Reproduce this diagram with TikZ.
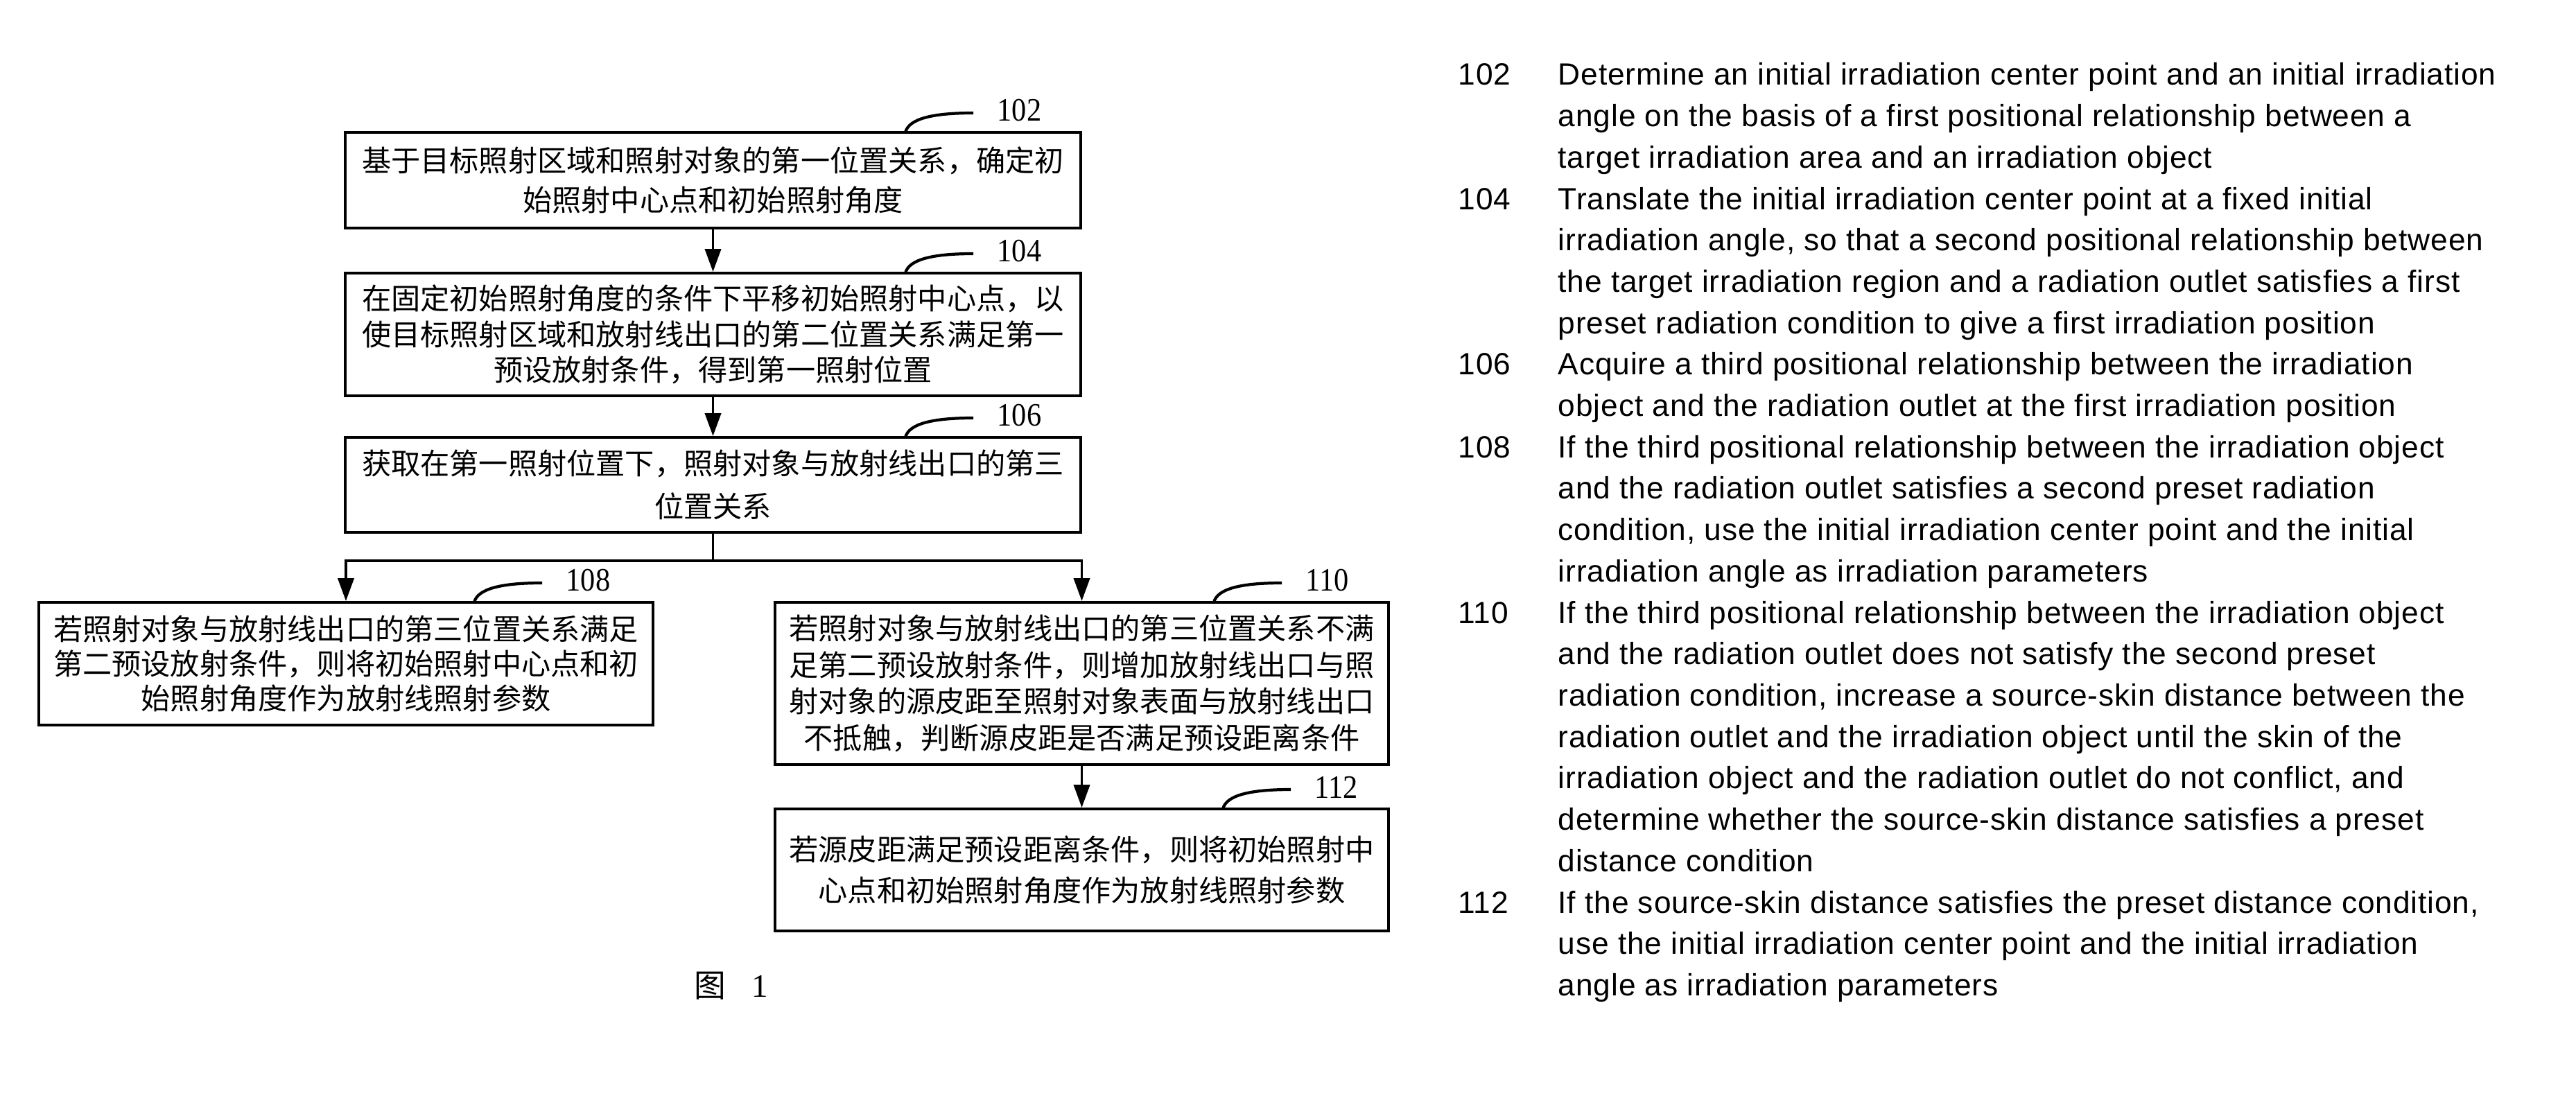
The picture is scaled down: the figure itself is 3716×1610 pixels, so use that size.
\documentclass[tikz,border=0pt]{standalone}
\usepackage{fontspec}
\setmainfont{Liberation Serif}
\newfontfamily\cjk{Noto Sans CJK SC}
\newfontfamily\numfont[FakeStretch=0.9]{Liberation Serif}
\newfontfamily\enfont[LetterSpace=2.0]{Liberation Sans}
\usetikzlibrary{arrows.meta}
\begin{document}
\begin{tikzpicture}[x=0.01cm,y=-0.01cm,
  box/.style={draw,line width=1.05pt,inner sep=0pt,align=center,
    font=\cjk\fontsize{12pt}{#1}\selectfont},
  arr/.style={line width=1.1pt,-{Triangle[length=0.33cm,width=0.23cm]}},
  link/.style={line width=1.1pt},
  leader/.style={line width=1.2pt},
  numlab/.style={anchor=base west,inner sep=0pt,font=\numfont\fontsize{13.4pt}{15pt}\selectfont},
  entext/.style={anchor=base west,inner sep=0pt,font=\enfont\fontsize{12.6pt}{14pt}\selectfont}]
\useasboundingbox (0,0) rectangle (3716,1610);

% boxes
\node[box=16.2pt,minimum width=10.61cm,minimum height=1.38cm] (b102) at (1028.5,260)
  {基于目标照射区域和照射对象的第一位置关系，确定初\\始照射中心点和初始照射角度};
\node[box=14.6pt,minimum width=10.61cm,minimum height=1.77cm] (b104) at (1028.5,482.5)
  {在固定初始照射角度的条件下平移初始照射中心点，以\\使目标照射区域和放射线出口的第二位置关系满足第一\\预设放射条件，得到第一照射位置};
\node[box=17.6pt,minimum width=10.61cm,minimum height=1.37cm] (b106) at (1028.5,699.5)
  {获取在第一照射位置下，照射对象与放射线出口的第三\\位置关系};
\node[box=14.2pt,minimum width=8.86cm,minimum height=1.77cm] (b108) at (499,957.5)
  {若照射对象与放射线出口的第三位置关系满足\\第二预设放射条件，则将初始照射中心点和初\\始照射角度作为放射线照射参数};
\node[box=15pt,minimum width=8.85cm,minimum height=2.34cm] (b110) at (1560.5,986)
  {若照射对象与放射线出口的第三位置关系不满\\足第二预设放射条件，则增加放射线出口与照\\射对象的源皮距至照射对象表面与放射线出口\\不抵触，判断源皮距是否满足预设距离条件};
\node[box=17pt,minimum width=8.85cm,minimum height=1.76cm] (b112) at (1560.5,1255)
  {若源皮距满足预设距离条件，则将初始照射中\\心点和初始照射角度作为放射线照射参数};

% connectors
\draw[arr] (b102.south) -- (b104.north);
\draw[arr] (b104.south) -- (b106.north);
\coordinate (split) at (1028.5,809);
\draw[link] (b106.south) -- (split);
\draw[arr] (split) -| (b108.north);
\draw[arr] (split) -| (b110.north);
\draw[arr] (b110.south) -- (b112.north);

% step labels with leader curves
\foreach \n/\xs/\t in {102/1306/191,104/1306/394,106/1306/631,108/684/869,110/1751/869,112/1764/1167}{
  \coordinate (c\n) at (\xs,\t);
  \coordinate (e\n) at (\xs+98,\t-28);
  \draw[leader] (c\n) .. controls (\xs+5,\t-20) and (\xs+40,\t-28) .. (e\n);
  \node[numlab] (l\n) at (\xs+132,\t-16) {\n};
}

% figure caption
\node[anchor=base,inner sep=0pt] (cap) at (1055,1438)
  {{\cjk\fontsize{13pt}{15pt}\selectfont 图}\hspace{0.37cm}{\fontsize{13.4pt}{15pt}\selectfont 1}};

% right-hand legend
\foreach \n/\i in {102/1,104/4,106/8,108/10,110/14,112/21}{
  \node[entext] (num\n) at (2103,{123+59.7*(\i-1)}) {\n};
}
\foreach \s [count=\i] in {
  {Determine an initial irradiation center point and an initial irradiation},
  {angle on the basis of a first positional relationship between a},
  {target irradiation area and an irradiation object},
  {Translate the initial irradiation center point at a fixed initial},
  {irradiation angle, so that a second positional relationship between},
  {the target irradiation region and a radiation outlet satisfies a first},
  {preset radiation condition to give a first irradiation position},
  {Acquire a third positional relationship between the irradiation},
  {object and the radiation outlet at the first irradiation position},
  {If the third positional relationship between the irradiation object},
  {and the radiation outlet satisfies a second preset radiation},
  {condition, use the initial irradiation center point and the initial},
  {irradiation angle as irradiation parameters},
  {If the third positional relationship between the irradiation object},
  {and the radiation outlet does not satisfy the second preset},
  {radiation condition, increase a source-skin distance between the},
  {radiation outlet and the irradiation object until the skin of the},
  {irradiation object and the radiation outlet do not conflict, and},
  {determine whether the source-skin distance satisfies a preset},
  {distance condition},
  {If the source-skin distance satisfies the preset distance condition,},
  {use the initial irradiation center point and the initial irradiation},
  {angle as irradiation parameters}}{
  \node[entext] (t\i) at (2247,{123+59.7*(\i-1)}) {\s};
}
\end{tikzpicture}
\end{document}
